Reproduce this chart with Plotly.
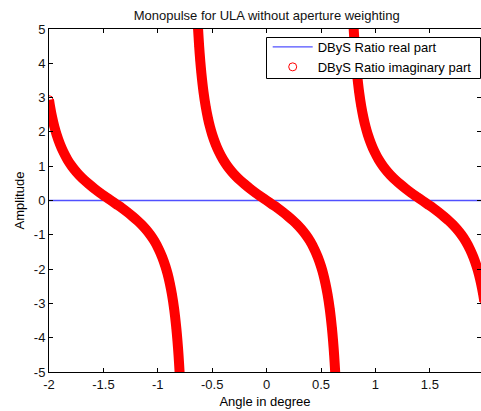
import plotly.graph_objects as go

# ---- data ----
# Real part of the D/S ratio (flat at zero)
real_x = [-2.0, -1.5, -1.0, -0.5, 0.0, 0.5, 1.0, 1.5, 2.0]
real_y = [0, 0, 0, 0, 0, 0, 0, 0, 0]

# Imaginary part, three branches
imag_x_1 = [-2.00, -1.99, -1.97, -1.95, -1.93, -1.90, -1.87, -1.83, -1.79, -1.75, -1.71, -1.67,
            -1.63, -1.58, -1.53, -1.48, -1.43, -1.38, -1.33, -1.28, -1.23, -1.19, -1.15, -1.11,
            -1.07, -1.03, -0.99, -0.96, -0.93, -0.91, -0.89, -0.87, -0.85, -0.83, -0.82, -0.81,
            -0.80, -0.795]
imag_y_1 = [2.94, 2.74, 2.41, 2.14, 1.92, 1.65, 1.43, 1.19, 1.00, 0.84, 0.70, 0.58,
            0.47, 0.34, 0.22, 0.11, 0.00, -0.11, -0.22, -0.34, -0.47, -0.58, -0.70, -0.84,
            -1.00, -1.19, -1.43, -1.65, -1.92, -2.14, -2.41, -2.74, -3.16, -3.72, -4.07, -4.49,
            -5.00, -5.30]

imag_x_2 = [-0.635, -0.63, -0.62, -0.61, -0.60, -0.58, -0.56, -0.54, -0.52, -0.50, -0.47, -0.44,
            -0.40, -0.36, -0.32, -0.28, -0.24, -0.20, -0.15, -0.10, -0.05, 0.00, 0.05, 0.10,
            0.15, 0.20, 0.24, 0.28, 0.32, 0.36, 0.40, 0.44, 0.47, 0.50, 0.52, 0.54,
            0.56, 0.58, 0.60, 0.61, 0.62, 0.63, 0.635]
imag_y_2 = [5.30, 5.00, 4.49, 4.07, 3.72, 3.16, 2.74, 2.41, 2.14, 1.92, 1.65, 1.43,
            1.19, 1.00, 0.84, 0.70, 0.58, 0.47, 0.34, 0.22, 0.11, 0.00, -0.11, -0.22,
            -0.34, -0.47, -0.58, -0.70, -0.84, -1.00, -1.19, -1.43, -1.65, -1.92, -2.14, -2.41,
            -2.74, -3.16, -3.72, -4.07, -4.49, -5.00, -5.30]

imag_x_3 = [0.795, 0.80, 0.81, 0.82, 0.83, 0.85, 0.87, 0.89, 0.91, 0.93, 0.96, 0.99,
            1.03, 1.07, 1.11, 1.15, 1.19, 1.23, 1.28, 1.33, 1.38, 1.43, 1.48, 1.53,
            1.58, 1.63, 1.67, 1.71, 1.75, 1.79, 1.83, 1.87, 1.90, 1.93, 1.95, 1.97,
            1.99, 2.00]
imag_y_3 = [5.30, 5.00, 4.49, 4.07, 3.72, 3.16, 2.74, 2.41, 2.14, 1.92, 1.65, 1.43,
            1.19, 1.00, 0.84, 0.70, 0.58, 0.47, 0.34, 0.22, 0.11, 0.00, -0.11, -0.22,
            -0.34, -0.47, -0.58, -0.70, -0.84, -1.00, -1.19, -1.43, -1.65, -1.92, -2.14, -2.41,
            -2.74, -2.94]

x_ticks = [-2, -1.5, -1, -0.5, 0, 0.5, 1, 1.5]
x_tick_labels = ["-2", "-1.5", "-1", "-0.5", "0", "0.5", "1", "1.5"]
y_ticks = [-5, -4, -3, -2, -1, 0, 1, 2, 3, 4, 5]
y_tick_labels = [str(v) for v in y_ticks]

title_text = "Monopulse for ULA without aperture weighting"
x_title = "Angle in degree"
y_title = "Amplitude"
name_real = "DByS Ratio real part"
name_imag = "DByS Ratio imaginary part"

# ---- build the figure ----
imag_x = imag_x_1 + [None] + imag_x_2 + [None] + imag_x_3
imag_y = imag_y_1 + [None] + imag_y_2 + [None] + imag_y_3

FONT = "Liberation Sans, Arial, sans-serif"
W, H = 481, 411
L, R, T, B = 49, 0, 29, 39
PW, PH = W - L - R, H - T - B


def px_x(p):  # pixel column -> paper x
    return (p - L) / PW


def px_y(p):  # pixel row -> paper y
    return 1 - (p - T) / PH


fig = go.Figure()
fig.add_trace(go.Scatter(
    x=real_x, y=real_y, mode="lines", name=name_real,
    line=dict(color="rgb(80,80,255)", width=1.3),
))
# thick band formed by the dense overlapping circles
fig.add_trace(go.Scatter(
    x=imag_x, y=imag_y, mode="lines", showlegend=False, hoverinfo="skip",
    line=dict(color="red", width=10, shape="spline", smoothing=0.8), connectgaps=False,
))
fig.add_trace(go.Scatter(
    x=imag_x, y=imag_y, mode="markers", name=name_imag,
    marker=dict(symbol="circle-open", size=8, color="red", line=dict(width=1, color="red")),
))

# legend frame (opaque box that sits over the curves, like the original)
fig.add_shape(type="rect", xref="paper", yref="paper",
              x0=px_x(266.5), x1=px_x(480.5), y0=px_y(78.5), y1=px_y(37.5),
              fillcolor="white", line=dict(color="black", width=1), layer="above")

fig.update_layout(
    width=W, height=H,
    margin=dict(l=L, r=R, t=T, b=B, pad=0),
    paper_bgcolor="white", plot_bgcolor="white",
    font=dict(family=FONT, size=13, color="black"),
    title=dict(text=title_text, x=(L + PW / 2 + 1.7) / W, xref="container", xanchor="center",
               y=1 - 15 / H, yref="container", yanchor="middle",
               font=dict(family=FONT, size=13, color="#111")),
    xaxis=dict(range=[-2, 1.97], tickvals=x_ticks, ticktext=x_tick_labels,
               ticks="inside", ticklen=4, tickwidth=1, tickcolor="black",
               showline=True, linecolor="black", linewidth=1, mirror="ticks",
               showgrid=False, zeroline=False,
               title=dict(text=x_title, standoff=6, font=dict(size=13)),
               tickfont=dict(size=13, color="#111")),
    yaxis=dict(range=[-5, 5], tickvals=y_ticks, ticktext=y_tick_labels,
               ticks="inside", ticklen=4, tickwidth=1, tickcolor="black",
               showline=True, linecolor="black", linewidth=1, mirror="ticks",
               showgrid=False, zeroline=False,
               title=dict(text=y_title, standoff=6, font=dict(size=13)),
               tickfont=dict(size=13, color="#111")),
    legend=dict(x=px_x(267.7), xanchor="left",
                y=px_y(32), yanchor="top",
                bgcolor="rgba(0,0,0,0)", borderwidth=0,
                font=dict(size=13, color="black"), itemwidth=40,
                tracegroupgap=0, traceorder="normal"),
    showlegend=True,
)

fig.write_html("out.html")
